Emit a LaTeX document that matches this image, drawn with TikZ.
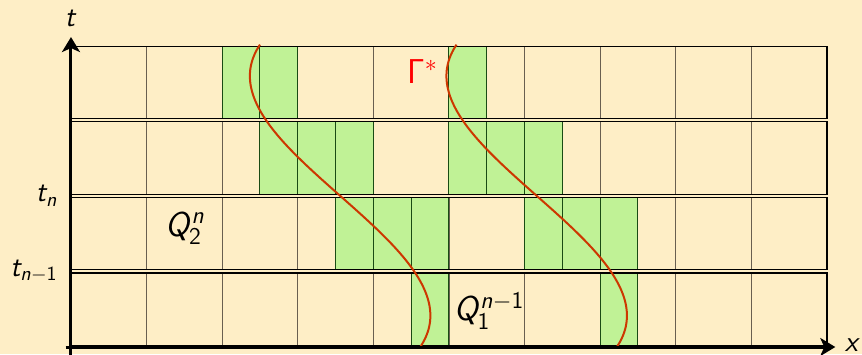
\documentclass[tikz,border=0pt]{standalone}
\usepackage{tikz}
\usetikzlibrary{arrows.meta}
\SetSymbolFont{letters}{normal}{OT1}{cmss}{m}{sl}
\SetSymbolFont{operators}{normal}{OT1}{cmss}{m}{n}
\definecolor{gdBack}{RGB}{254,238,198}
\definecolor{gdGreen}{RGB}{192,242,150}
\definecolor{gdEdge}{RGB}{25,75,20}
\definecolor{gdGrid}{RGB}{105,95,80}
\definecolor{gdCurve}{RGB}{205,55,0}
\tikzset{
    strip/.style={draw=black, line width=0.6pt},
    gridline/.style={draw=gdGrid, line width=0.6pt},
    cell/.style={fill=gdGreen, draw=gdEdge, line width=0.5pt},
    axis/.style={-{Stealth[length=7.5pt, width=9pt, inset=2pt]}, line width=1.5pt},
    interface/.style={draw=gdCurve, line width=1pt},
    lbl/.style={font=\fontsize{14.4}{17}\selectfont, inner sep=0pt},
    big/.style={lbl, font=\fontsize{17.28}{20}\selectfont}
}

\begin{document}
\begin{tikzpicture}[x=37.8pt, y=37.8pt]
  \fill[gdBack] (-0.939,-0.093) rectangle (10.463,4.590);
  \useasboundingbox (-0.939,-0.093) rectangle (10.463,4.590);

  % grid of the four time slabs
  \foreach \s in {0,...,3} {
    \foreach \c in {1,...,9}
      \draw[gridline] (\c,\s+0.02) -- (\c,\s+0.98);
  }
  \foreach \s/\c in {3/2, 3/2.5, 3/5, 2/2.5, 2/3, 2/3.5, 2/5, 2/5.5, 2/6,
                     1/3.5, 1/4, 1/4.5, 1/6, 1/6.5, 1/7, 0/4.5, 0/7}
    \draw[cell] (\c,\s+0.02) rectangle ++(0.5,0.96);
  \foreach \s in {0,...,3}
    \draw[strip] (0,\s+0.02) rectangle (10,\s+0.98);

  % the interface
  \foreach \d in {0,2.6}
    \draw[interface] plot[domain=-2:2, samples=60, smooth]
      ({3.56+\d-1.13*\x+0.15*\x*\x*\x}, {2+\x});

  \coordinate (xstart) at (-0.07,0);
  \coordinate (xend) at (10.11,0);
  \coordinate (tstart) at (0,-0.1);
  \coordinate (tend) at (0,4.10);
  \draw[axis] (xstart) -- (xend);
  \draw[axis] (tstart) -- (tend);

  \node[lbl] (tlab) at (0,4.35) {$t$};
  \node[lbl] (xlab) at (10.34,0.03) {$x$};
  \node[lbl, anchor=east] (tn) at (-0.17,2.0) {$t_n$};
  \node[lbl, anchor=east] (tnm) at (-0.17,1.0) {$t_{n-1}$};
  \node[big] (q2) at (1.51,1.57) {$Q_2^n$};
  \node[big] (q1) at (5.53,0.48) {$Q_1^{n-1}$};
  \node[big, text=red] (gam) at (4.65,3.64) {$\Gamma^*$};
\end{tikzpicture}
\end{document}
